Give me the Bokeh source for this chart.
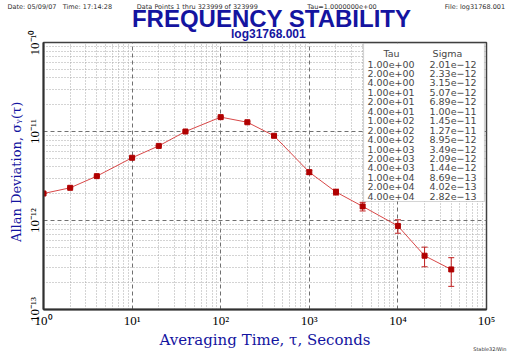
from bokeh.plotting import figure
from bokeh.models import (ColumnDataSource, FixedTicker, CustomJSTickFormatter,
                          Label, Whisker, BoxAnnotation, TeeHead, Title)
from bokeh.embed import file_html
from bokeh.resources import INLINE

# ---- data ----
tau = [1, 2, 4, 10, 20, 40, 100, 200, 400, 1000, 2000, 4000, 10000, 20000, 40000]
sigma = [2.01e-12, 2.33e-12, 3.15e-12, 5.07e-12, 6.89e-12, 1.00e-11, 1.45e-11,
         1.27e-11, 8.95e-12, 3.49e-12, 2.09e-12, 1.44e-12, 8.69e-13, 4.02e-13, 2.82e-13]
sigma_err = [3.5e-15, 5.8e-15, 1.1e-14, 2.8e-14, 5.4e-14, 1.1e-13, 2.5e-13,
             3.2e-13, 3.1e-13, 1.9e-13, 1.6e-13, 1.6e-13, 1.5e-13, 1.0e-13, 1.0e-13]
tau_labels = ["1.00e+00", "2.00e+00", "4.00e+00", "1.00e+01", "2.00e+01", "4.00e+01",
              "1.00e+02", "2.00e+02", "4.00e+02", "1.00e+03", "2.00e+03", "4.00e+03",
              "1.00e+04", "2.00e+04", "4.00e+04"]
sigma_labels = ["2.01e\u221212", "2.33e\u221212", "3.15e\u221212", "5.07e\u221212", "6.89e\u221212",
                "1.00e\u221211", "1.45e\u221211", "1.27e\u221211", "8.95e\u221212", "3.49e\u221212",
                "2.09e\u221212", "1.44e\u221212", "8.69e\u221213", "4.02e\u221213", "2.82e\u221213"]
x_major = [1, 10, 100, 1000, 10000, 100000]
y_major = [1e-13, 1e-12, 1e-11, 1e-10]
x_minor = [m * d for d in [1, 10, 100, 1000, 10000] for m in range(2, 10)]
y_minor = [m * d for d in [1e-13, 1e-12, 1e-11] for m in range(2, 10)]

header_parts = ["Date: 05/09/07\u00a0\u00a0\u00a0Time: 17:14:28", "Data Points 1 thru 323999 of 323999",
                "Tau=1.0000000e+00", "File: log31768.001"]
header_gaps = [12, 24, 33]
title_text = "FREQUENCY STABILITY"
subtitle_text = "log31768.001"
xlabel_text = "Averaging Time, \u03c4, Seconds"
ylabel_text = "Allan Deviation, \u03c3\u1d67(\u03c4)"
footer_text = "Stable32/Win"

BLUE = "#1414a0"
NB = "\u00a0"
FL, FB = 43, 310  # frame left / bottom in canvas pixels

src = ColumnDataSource(dict(
    tau=tau, sigma=sigma,
    lower=[s - e for s, e in zip(sigma, sigma_err)],
    upper=[s + e for s, e in zip(sigma, sigma_err)],
))

p = figure(width=512, height=351, x_axis_type="log", y_axis_type="log",
           x_range=(1, 1e5), y_range=(1e-13, 1e-10),
           output_backend="svg", toolbar_location=None,
           min_border_left=FL, min_border_right=26, min_border_top=42, min_border_bottom=41,
           background_fill_color="white", border_fill_color="white")
p.outline_line_color = "#404040"
p.outline_line_width = 1.5

sup_js = """
const sup = {"0":"\u2070","1":"\u00b9","2":"\u00b2","3":"\u00b3","4":"\u2074","5":"\u2075",
             "6":"\u2076","7":"\u2077","8":"\u2078","9":"\u2079","-":"\u207b"};
const e = Math.round(Math.log10(tick));
return "10" + String(e).split("").map(c => sup[c]).join("");
"""
for ax, maj, mnr in [(p.xaxis[0], x_major, x_minor), (p.yaxis[0], y_major, y_minor)]:
    ax.ticker = FixedTicker(ticks=maj, minor_ticks=mnr)
    ax.formatter = CustomJSTickFormatter(code=sup_js)
    ax.major_tick_out = 0
    ax.major_tick_in = 0
    ax.minor_tick_out = 0
    ax.minor_tick_in = 0
    ax.axis_line_color = "#303030"
    ax.axis_line_width = 2
    ax.major_label_text_font = "Liberation Serif"
    ax.major_label_text_font_size = "13px"
    ax.major_label_text_color = "black"
    ax.major_label_standoff = 3
    ax.axis_label_text_font = "DejaVu Serif"
    ax.axis_label_text_font_style = "normal"
    ax.axis_label_text_color = BLUE
    ax.axis_label_standoff = 0
p.yaxis[0].major_label_orientation = "vertical"
p.yaxis[0].major_label_standoff = 2
p.xaxis[0].axis_label = xlabel_text
p.xaxis[0].axis_label_text_font_size = "15px"
p.yaxis[0].axis_label = NB * 2 + ylabel_text
p.yaxis[0].axis_label_text_font_size = "13px"

for g in [p.xgrid[0], p.ygrid[0]]:
    g.grid_line_color = "#707070"
    g.grid_line_dash = "4 3"
    g.grid_line_width = 1
    g.minor_grid_line_color = "#a8a8a8"
    g.minor_grid_line_dash = "1 2"
    g.minor_grid_line_width = 1

# data
p.line("tau", "sigma", source=src, line_color="#d84848", line_width=1)
p.add_layout(Whisker(source=src, base="tau", lower="lower", upper="upper",
                     line_color="#c02020", line_width=1,
                     lower_head=TeeHead(size=6, line_color="#c02020"),
                     upper_head=TeeHead(size=6, line_color="#c02020")))
p.scatter("tau", "sigma", source=src, marker="square", size=5,
          fill_color="#b00000", line_color="#b00000")


def lab(cx, cy, text, size, color="black", font="DejaVu Sans", align="left"):
    p.add_layout(Label(x=cx - FL, y=FB - cy, x_units="screen", y_units="screen",
                       text=text, text_font_size=f"{size}px", text_color=color,
                       text_font=font, text_align=align, text_baseline="middle"))


# legend table (inside the frame)
p.add_layout(BoxAnnotation(left=363 - FL, right=484 - FL, top=FB - 44, bottom=FB - 202,
                           left_units="screen", right_units="screen",
                           top_units="screen", bottom_units="screen",
                           fill_color="white", fill_alpha=1.0,
                           line_color="#707070", line_width=1.2))
lab(391, 54, "Tau", 9.5, "#484848", align="center")
lab(447, 54, "Sigma", 9.5, "#484848", align="center")
for i, (t, s) in enumerate(zip(tau_labels, sigma_labels)):
    y = 64.5 + i * 9.45
    lab(367, y, t, 9.5, "#484848")
    lab(429, y, s, 9.5, "#484848")

# titles (above panels: first added is closest to the frame)
p.add_layout(Title(text=NB * 2 + subtitle_text, text_font="Liberation Sans", text_font_style="bold",
                   text_font_size="12px", text_color=BLUE, align="center",
                   vertical_align="middle", standoff=2.0), "above")
p.add_layout(Title(text=NB * 2 + title_text, text_font="Liberation Sans", text_font_style="bold",
                   text_font_size="24px", text_color=BLUE, align="center",
                   vertical_align="middle", standoff=-16), "above")
header = header_parts[0]
for gap, part in zip(header_gaps, header_parts[1:]):
    header += NB * gap + part
p.add_layout(Title(text=header, text_font="DejaVu Sans", text_font_style="normal",
                   text_font_size="6.5px", text_color="#303030", align="left", offset=7 - FL,
                   vertical_align="middle", standoff=0), "above")
p.add_layout(Title(text=footer_text, text_font="DejaVu Sans", text_font_style="normal",
                   text_font_size="5px", text_color="#303030", align="right", offset=-20,
                   vertical_align="top", standoff=-12), "below")

open("out.html", "w").write(file_html(p, INLINE))
